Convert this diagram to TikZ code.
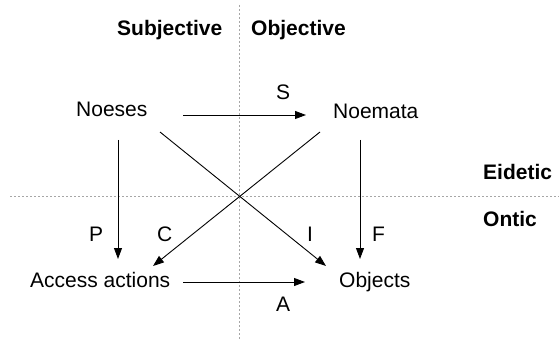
\documentclass[tikz,border=0pt]{standalone}
\usepackage{fontspec}
\setmainfont{Liberation Sans}
\usetikzlibrary{arrows.meta}
\begin{document}
\begin{tikzpicture}[x=1pt,y=-1pt,
  lbl/.style={anchor=base west,inner sep=0pt,font=\fontsize{21}{25}\selectfont},
  hdr/.style={lbl,font=\fontsize{21}{25}\selectfont\bfseries},
  conn/.style={line width=0.9pt,-{Triangle[length=11pt,width=8pt]}},
  guide/.style={gray!70,line width=0.8pt,dash pattern=on 2pt off 2pt}]
\useasboundingbox (0,0) rectangle (559,339);
% guide lines
\coordinate (vtop) at (239,5);
\coordinate (vbot) at (239,339);
\coordinate (hl) at (10,196);
\coordinate (hr) at (559,196);
\draw[guide] (vtop) -- (vbot);
\draw[guide] (hl) -- (hr);
% headers
\node[hdr] (subj) at (117,36) {Subjective};
\node[hdr] (obj) at (251,36) {Objective};
\node[hdr] (eid) at (483,180) {Eidetic};
\node[hdr] (ont) at (483,226) {Ontic};
% main nodes
\node[lbl] (noeses) at (76,117) {Noeses};
\node[lbl] (noemata) at (333,119) {Noemata};
\node[lbl] (access) at (30,287) {Access actions};
\node[lbl] (objects) at (339,287) {Objects};
% arrow end points
\coordinate (s1) at (183,115); \coordinate (s2) at (306,115);
\coordinate (p1) at (118,140); \coordinate (p2) at (118,259);
\coordinate (f1) at (360,140); \coordinate (f2) at (360,259);
\coordinate (c1) at (320,132); \coordinate (c2) at (153,266);
\coordinate (i1) at (160,132); \coordinate (i2) at (326,266);
\coordinate (a1) at (183,282); \coordinate (a2) at (305,282);
\draw[conn] (s1) -- (s2);
\draw[conn] (p1) -- (p2);
\draw[conn] (f1) -- (f2);
\draw[conn] (c1) -- (c2);
\draw[conn] (i1) -- (i2);
\draw[conn] (a1) -- (a2);
% arrow labels
\node[lbl] (ls) at (276,100) {S};
\node[lbl] (lp) at (89,241) {P};
\node[lbl] (lc) at (157,241) {C};
\node[lbl] (li) at (307,241) {I};
\node[lbl] (lf) at (372,241) {F};
\node[lbl] (la) at (276,311) {A};
\end{tikzpicture}
\end{document}
